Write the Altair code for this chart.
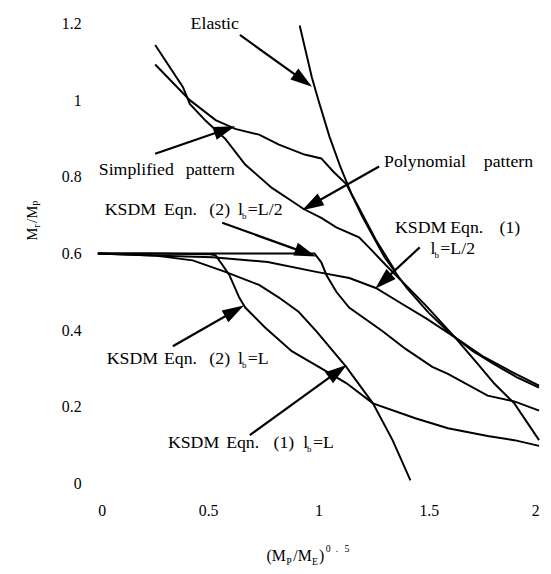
import math
import altair as alt
import pandas as pd

# ---------------- data ----------------
elastic_x = [0.915, 0.97, 1.0, 1.05, 1.1, 1.15, 1.2, 1.3, 1.4, 1.5, 1.6, 1.7, 1.8, 1.9, 2.0]
elastic_y = [1.195, 1.06, 1.0, 0.905, 0.825, 0.755, 0.695, 0.59, 0.51, 0.445, 0.39, 0.345, 0.31, 0.277, 0.25]

poly_x = [0.26, 0.386, 0.417, 0.489, 0.578, 0.668, 0.789, 0.879, 0.933, 1.013, 1.081, 1.184, 1.229,
          1.305, 1.35, 1.484, 1.619, 1.722, 1.798, 1.888, 2.0]
poly_y = [1.144, 1.034, 0.99, 0.946, 0.899, 0.832, 0.771, 0.737, 0.716, 0.693, 0.668, 0.642, 0.616,
          0.57, 0.544, 0.466, 0.381, 0.312, 0.26, 0.209, 0.113]

simp_x = [0.26, 0.417, 0.534, 0.623, 0.731, 0.821, 0.937, 1.013, 1.067, 1.126, 1.19, 1.26, 1.35]
simp_y = [1.093, 1.0, 0.948, 0.925, 0.91, 0.884, 0.858, 0.848, 0.814, 0.781, 0.712, 0.636, 0.552]

k2h_x = [0.0, 0.5, 0.982, 1.013, 1.036, 1.081, 1.139, 1.291, 1.395, 1.516, 1.587, 1.767, 1.888, 2.0]
k2h_y = [0.6, 0.6, 0.6, 0.577, 0.544, 0.5, 0.459, 0.397, 0.351, 0.304, 0.286, 0.229, 0.214, 0.19]

k1h_x = [0.0, 0.25, 0.52, 0.77, 0.99, 1.14, 1.26, 1.363, 1.49, 1.619, 1.75, 1.88, 2.0]
k1h_y = [0.6, 0.595, 0.59, 0.578, 0.552, 0.536, 0.51, 0.474, 0.43, 0.381, 0.33, 0.29, 0.255]

k2l_x = [0.0, 0.25, 0.51, 0.534, 0.565, 0.596, 0.641, 0.668, 0.758, 0.879, 1.013, 1.126, 1.247,
         1.439, 1.587, 1.767, 1.888, 2.0]
k2l_y = [0.6, 0.6, 0.598, 0.595, 0.57, 0.544, 0.485, 0.459, 0.407, 0.345, 0.3, 0.262, 0.209,
         0.17, 0.144, 0.124, 0.113, 0.098]

k1l_x = [0.0, 0.251, 0.43, 0.578, 0.731, 0.821, 0.91, 0.991, 1.126, 1.247, 1.336, 1.417]
k1l_y = [0.6, 0.595, 0.582, 0.552, 0.518, 0.485, 0.448, 0.397, 0.304, 0.209, 0.113, 0.008]

# arrows: start (x, y) -> tip (x, y), data units
arrow_x1 = [0.644, 0.260, 1.275, 0.564, 1.459, 0.340, 0.689]
arrow_y1 = [1.170, 0.860, 0.827, 0.680, 0.616, 0.358, 0.126]
arrow_x2 = [0.971, 0.622, 0.926, 0.989, 1.257, 0.662, 1.128]
arrow_y2 = [1.035, 0.932, 0.713, 0.592, 0.508, 0.464, 0.309]

# annotation texts
label_words = ["Elastic", "Simplified", "pattern", "Polynomial", "pattern",
               "KSDM", "Eqn.", "(2)", "l", "b", "=L/2",
               "KSDM", "Eqn.", "(1)", "l", "b", "=L/2",
               "KSDM", "Eqn.", "(2)", "l", "b", "=L",
               "KSDM", "Eqn.", "(1)", "l", "b", "=L"]
xtitle_words = ["(M", "P", "/M", "E", ")", "0", ".", "5"]
ytitle_words = ["M", "r", "/M", "P"]

x_ticks = [0, 0.5, 1, 1.5, 2]
y_ticks = [0, 0.2, 0.4, 0.6, 0.8, 1.0, 1.2]

# ---------------- layout (pixel placement of the annotation words) ----------------
W, H = 447, 466
X0, Y0 = 99, 486          # page pixel of data origin
SX, SY = W / 2.0, H / 1.2

def to_data(px, py):
    return (px - X0) / SX, (Y0 - py) / SY

label_pos = [(193, 21, 18), (100, 168, 18), (188, 168, 18), (389, 160, 18), (490, 160, 18),
             (106, 209, 18), (166, 209, 18), (212, 209, 18), (241, 209, 18), (245, 215, 9), (251, 209, 18),
             (400, 227, 18), (456, 227, 18), (506, 227, 18), (436, 249, 18), (440, 255, 9), (446, 249, 18),
             (108, 360, 18), (166, 360, 18), (212, 360, 18), (241, 360, 18), (245, 366, 9), (251, 360, 18),
             (170, 445, 18), (229, 445, 18), (277, 445, 18), (307, 445, 18), (311, 451, 9), (317, 445, 18)]
xtitle_pos = [(270, 560, 16), (290, 566, 10), (297, 560, 16), (316, 566, 10), (323, 560, 16),
              (330, 552, 10), (340, 552, 10), (349, 552, 10)]
ytitle_pos = [(32, 240, 15), (37, 227, 10), (32, 222, 15), (37, 205, 10)]

def text_df(words, pos):
    rows = []
    for w, (px, py, s) in zip(words, pos):
        x, y = to_data(px, py)
        rows.append({"x": x, "y": y, "t": w, "s": s})
    return pd.DataFrame(rows)

df_lab = text_df(label_words, label_pos)
df_tx = text_df(xtitle_words, xtitle_pos)
df_ty = text_df(ytitle_words, ytitle_pos)

curves = {
    "Elastic": (elastic_x, elastic_y),
    "Polynomial": (poly_x, poly_y),
    "Simplified": (simp_x, simp_y),
    "K2h": (k2h_x, k2h_y),
    "K1h": (k1h_x, k1h_y),
    "K2l": (k2l_x, k2l_y),
    "K1l": (k1l_x, k1l_y),
}
rows = []
for name, (xs_, ys_) in curves.items():
    for i, (a, b) in enumerate(zip(xs_, ys_)):
        rows.append({"curve": name, "i": i, "x": a, "y": b})
df_lines = pd.DataFrame(rows)

R = 11.0
arows = []
for x1, y1, x2, y2 in zip(arrow_x1, arrow_y1, arrow_x2, arrow_y2):
    dxp = (x2 - x1) * SX
    dyp = -(y2 - y1) * SY
    L = math.hypot(dxp, dyp)
    ux, uy = dxp / L, dyp / L
    ang = math.degrees(math.atan2(dxp, -dyp)) % 360
    cx = x2 - ux * R / SX
    cy = y2 + uy * R / SY
    arows.append({"x1": x1, "y1": y1, "xc": cx, "yc": cy, "angle": ang})
df_arr = pd.DataFrame(arows)

FONT = "Liberation Serif"
xs = alt.Scale(domain=[0, 2], nice=False, zero=False)
ys = alt.Scale(domain=[0, 1.2], nice=False, zero=False)

xaxis = alt.Axis(values=x_ticks, format="~g", title=None, domain=False, ticks=False, grid=False,
                 labelFont=FONT, labelFontSize=16, labelColor="black", labelPadding=19)
yaxis = alt.Axis(values=y_ticks, format="~g", title=None, domain=False, ticks=False, grid=False,
                 labelFont=FONT, labelFontSize=16, labelColor="black", labelPadding=17)

lines = alt.Chart(df_lines).mark_line(color="black", strokeWidth=2).encode(
    x=alt.X("x:Q", scale=xs, axis=xaxis),
    y=alt.Y("y:Q", scale=ys, axis=yaxis),
    detail="curve:N",
    order="i:Q",
)

shafts = alt.Chart(df_arr).mark_rule(color="black", strokeWidth=2.2).encode(
    x=alt.X("x1:Q", scale=xs), y=alt.Y("y1:Q", scale=ys),
    x2="xc:Q", y2="yc:Q",
)

heads = alt.Chart(df_arr).mark_point(
    shape="M0,-1L0.62,1L-0.62,1Z", filled=True, color="black", opacity=1, size=484
).encode(
    x=alt.X("xc:Q", scale=xs), y=alt.Y("yc:Q", scale=ys),
    angle=alt.Angle("angle:Q", scale=None),
)

def text_layer(df, angle=0):
    return alt.Chart(df).mark_text(font=FONT, align="left", baseline="middle", color="black",
                                   angle=angle).encode(
        x=alt.X("x:Q", scale=xs), y=alt.Y("y:Q", scale=ys),
        text="t:N", size=alt.Size("s:Q", scale=None),
    )

chart = alt.layer(
    lines, shafts, heads, text_layer(df_lab), text_layer(df_tx), text_layer(df_ty, 270)
).properties(
    width=W, height=H,
    autosize=alt.AutoSizeParams(type="none"),
    padding={"left": 91, "top": 12, "right": 4, "bottom": 86},
).configure_view(stroke=None)

chart.save("out.html", embed_options={"renderer": "svg", "actions": False})
